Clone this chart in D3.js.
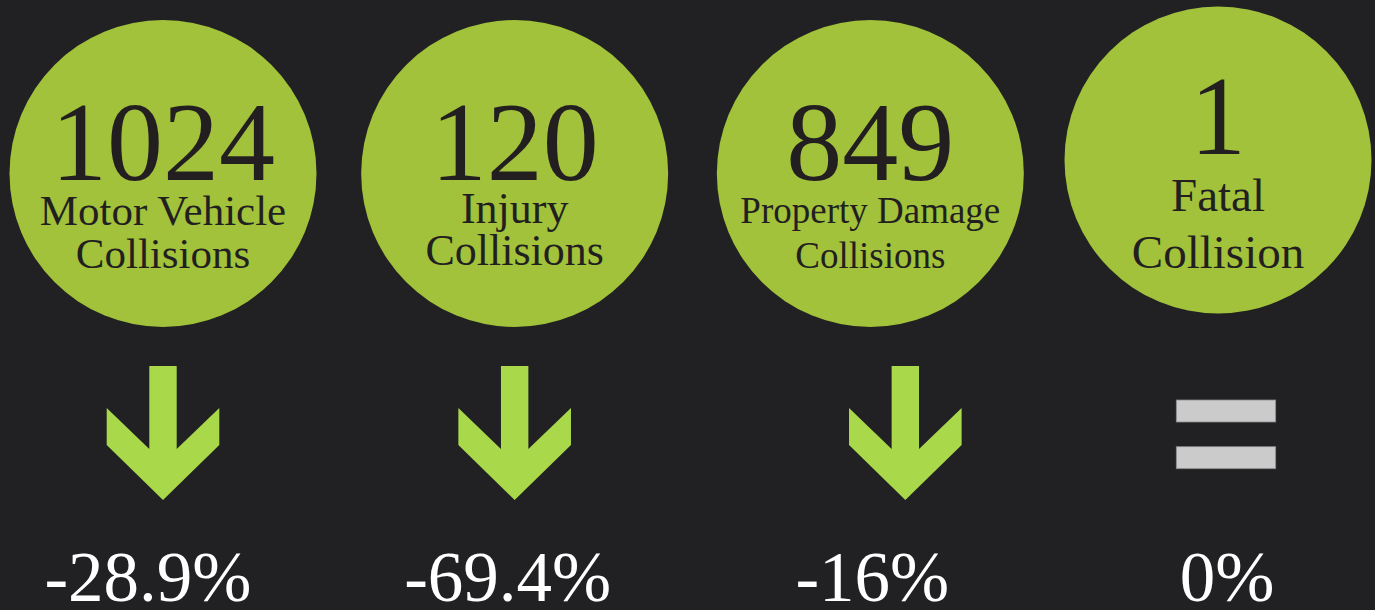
<!DOCTYPE html>
<html>
<head>
<meta charset="utf-8">
<script src="https://cdn.jsdelivr.net/npm/d3@7"></script>
<style>
  html, body { margin: 0; padding: 0; background: #212123; }
  svg { display: block; }
</style>
</head>
<body>
<script>
// data
var categories = ["motor", "injury", "property", "fatal"];
var counts = [1024, 120, 849, 1];
var labelLine1 = ["Motor Vehicle", "Injury", "Property Damage", "Fatal"];
var labelLine2 = ["Collisions", "Collisions", "Collisions", "Collision"];
var changes = [-28.9, -69.4, -16, 0];

// layout tweaks per item (not data)
var labelSize = [43, 44, 37, 47];
var circleDx = [0, 0, 4, 0];
var circleDy = [0, 0, 0, -13.5];
var arrowDx = [0, 0, 35, 8];
var pctDx = [-15, -7, 2, 9];

var width = 1375, height = 610;
var svg = d3.select("body").append("svg")
  .attr("width", width)
  .attr("height", height);

var x = d3.scalePoint()
  .domain(categories)
  .range([163, 1218]);

var r = 153.5, cy = 173.5;
var serif = "'Liberation Serif', 'Times New Roman', serif";

var items = categories.map(function(c, i) {
  return { key: c, count: counts[i], l1: labelLine1[i], l2: labelLine2[i], change: changes[i], i: i };
});
function cx(d) { return x(d.key) + circleDx[d.i]; }

var g = svg.selectAll("g.item").data(items).enter()
  .append("g").attr("class", "item");

g.append("circle")
  .attr("cx", cx)
  .attr("cy", d => cy + circleDy[d.i])
  .attr("r", r)
  .attr("fill", "#a1c23a");

// big number
g.append("text")
  .attr("x", cx)
  .attr("y", d => d.count === 1 ? 154 : 180)
  .attr("text-anchor", "middle")
  .attr("font-family", serif)
  .attr("font-size", 112)
  .attr("fill", "#231f20")
  .text(d => d.count);

g.append("text")
  .attr("x", cx)
  .attr("y", d => [225, 223, 223, 211][d.i])
  .attr("text-anchor", "middle")
  .attr("font-family", serif)
  .attr("font-size", d => labelSize[d.i])
  .attr("fill", "#231f20")
  .text(d => d.l1);

g.append("text")
  .attr("x", cx)
  .attr("y", d => [268, 265, 268, 268][d.i])
  .attr("text-anchor", "middle")
  .attr("font-family", serif)
  .attr("font-size", d => labelSize[d.i])
  .attr("fill", "#231f20")
  .text(d => d.l2);

// trend marks
function arrowPath(ax) {
  var s = 13.7, w = 56.3;
  return "M" + (ax - s) + ",366L" + (ax + s) + ",366L" + (ax + s) + ",449L" +
    (ax + w) + ",408L" + (ax + w) + ",445L" + ax + ",500L" +
    (ax - w) + ",445L" + (ax - w) + ",408L" + (ax - s) + ",449Z";
}

g.filter(d => d.change < 0).append("path")
  .attr("d", d => arrowPath(cx(d) + arrowDx[d.i]))
  .attr("fill", "#a9d84b");

var eq = g.filter(d => d.change === 0);
[400, 446.7].forEach(function(yy) {
  eq.append("rect")
    .attr("x", d => cx(d) + arrowDx[d.i] - 49.7)
    .attr("y", yy)
    .attr("width", 99.4)
    .attr("height", 22)
    .attr("fill", "#cbcbcb")
    .attr("stroke", "#8a8a8a")
    .attr("stroke-width", 0.8);
});

// percent change
g.append("text")
  .attr("x", d => cx(d) + pctDx[d.i])
  .attr("y", 601)
  .attr("text-anchor", "middle")
  .attr("font-family", serif)
  .attr("font-size", 71)
  .attr("fill", "#ffffff")
  .text(d => d.change + "%");
</script>
</body>
</html>
